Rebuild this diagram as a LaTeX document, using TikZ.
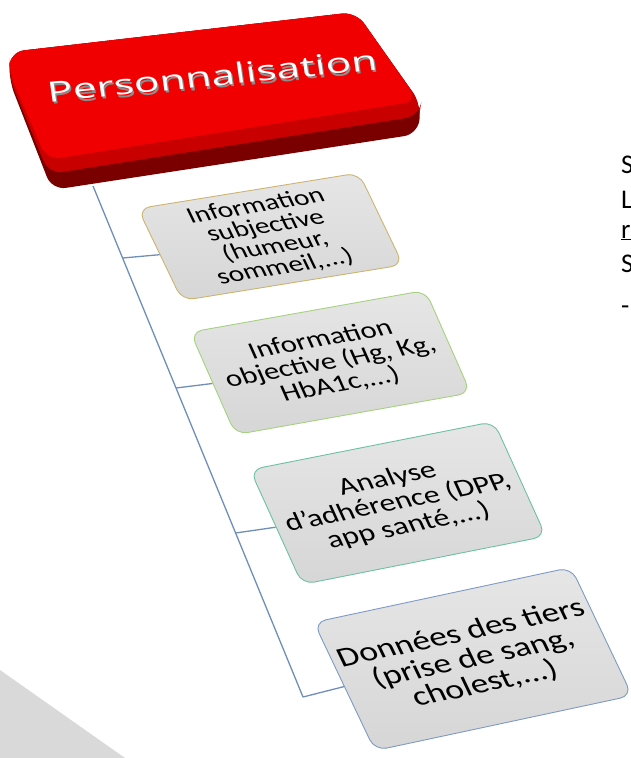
\documentclass[tikz,border=0pt]{standalone}
\usepackage{fontspec}
\setmainfont{Carlito}
\newfontfamily\titlefont{Open Sans}
\definecolor{trunkblue}{HTML}{6F8FB9}
\definecolor{boxtop}{HTML}{E6E6E6}
\definecolor{boxbot}{HTML}{D6D6D6}
\definecolor{edgeA}{HTML}{CDB46E}
\definecolor{edgeB}{HTML}{A6D27F}
\definecolor{edgeC}{HTML}{6CC1A0}
\definecolor{edgeD}{HTML}{7D9AC4}
\definecolor{slabred}{HTML}{F00000}
\definecolor{slabmid}{HTML}{C80000}
\definecolor{slabdark}{HTML}{7A0000}
\definecolor{cornergray}{HTML}{D9D9D9}
\definecolor{shadowgray}{HTML}{8C8C8C}
\begin{document}
\begin{tikzpicture}[x=1pt,y=-1pt,
  trunk/.style={draw=trunkblue, line width=1.3pt},
  itembox/.style={rectangle, rounded corners=12pt, inner sep=0pt, align=center,
    top color=boxtop, bottom color=boxbot, line width=0.9pt},
  titletext/.style={font=\titlefont\fontsize{28}{30}\selectfont, inner sep=0pt, anchor=base,
    cm={1.51,0.15,-0.14,0.99,(0,0)}},
  edgetext/.style={anchor=base west, inner sep=0pt, font=\fontsize{27}{32}\selectfont}]
\useasboundingbox (0,0) rectangle (630,758);
% grey corner
\fill[cornergray] (0,670) -- (125,758) -- (0,758) -- cycle;
% trunk
\coordinate (t0) at (93,186);
\coordinate (t1) at (122.6,258);
\coordinate (t2) at (176,388);
\coordinate (t3) at (235.6,533);
\coordinate (t4) at (303,697);
\draw[trunk] (t0) -- (t4);
% red slab
\fill[slabdark, rounded corners=14pt] (10,52) -- (356,12) -- (421,104) -- (418,134) -- (52,190) -- (9,80) -- cycle;
\fill[slabmid, rounded corners=14pt] (10,52) -- (356,12) -- (421,104) -- (419,116) -- (49,174) -- (9,77) -- cycle;
\fill[slabred, rounded corners=14pt] (10,52) -- (356,12) -- (418,101) -- (47,160) -- (9,72) -- cycle;
\node[titletext, text=shadowgray] (titleshadow) at (215,88.5) {Personnalisation};
\node[titletext, text=white] (title) at (213.5,86) {Personnalisation};
% boxes
\node[itembox, draw=edgeA, minimum width=188pt, minimum height=102pt,
  font=\fontsize{24}{22.5}\selectfont, cm={1.175,0.190,-0.433,0.901,(0,0)}]
  (box1) at (270.5,236.75) {Information\\subjective\\(humeur,\\sommeil,...)};
\node[itembox, draw=edgeB, minimum width=199pt, minimum height=112pt,
  font=\fontsize{25}{24.5}\selectfont, cm={1.181,0.210,-0.404,0.915,(0,0)}]
  (box2) at (330.5,362.5) {Information\\objective (Hg, Kg,\\HbA1c,...)};
\node[itembox, draw=edgeC, minimum width=207pt, minimum height=126pt,
  font=\fontsize{26}{25.8}\selectfont, cm={1.177,0.233,-0.413,0.910,(0,0)}]
  (box3) at (398,503) {Analyse\\d’adhérence (DPP,\\app santé,...)};
\node[itembox, draw=edgeD, minimum width=220pt, minimum height=142pt,
  font=\fontsize{29}{28}\selectfont, cm={1.169,0.250,-0.430,0.903,(0,0)}]
  (box4) at (473,659) {Données des tiers\\(prise de sang,\\cholest,...)};
% branches
\draw[trunk] (t1) -- (box1.west);
\draw[trunk] (t2) -- (box2.west);
\draw[trunk] (t3) -- (box3.west);
\draw[trunk] (t4) -- (box4.west);
% cut text at right edge
\node[edgetext] (r1) at (621,173) {S};
\node[edgetext] (r2) at (621,208) {L};
\node[edgetext] (r3) at (621,238) {\underline{r}};
\node[edgetext] (r4) at (621,272) {S};
\node[edgetext] (r5) at (621,314) {-};
\end{tikzpicture}
\end{document}
